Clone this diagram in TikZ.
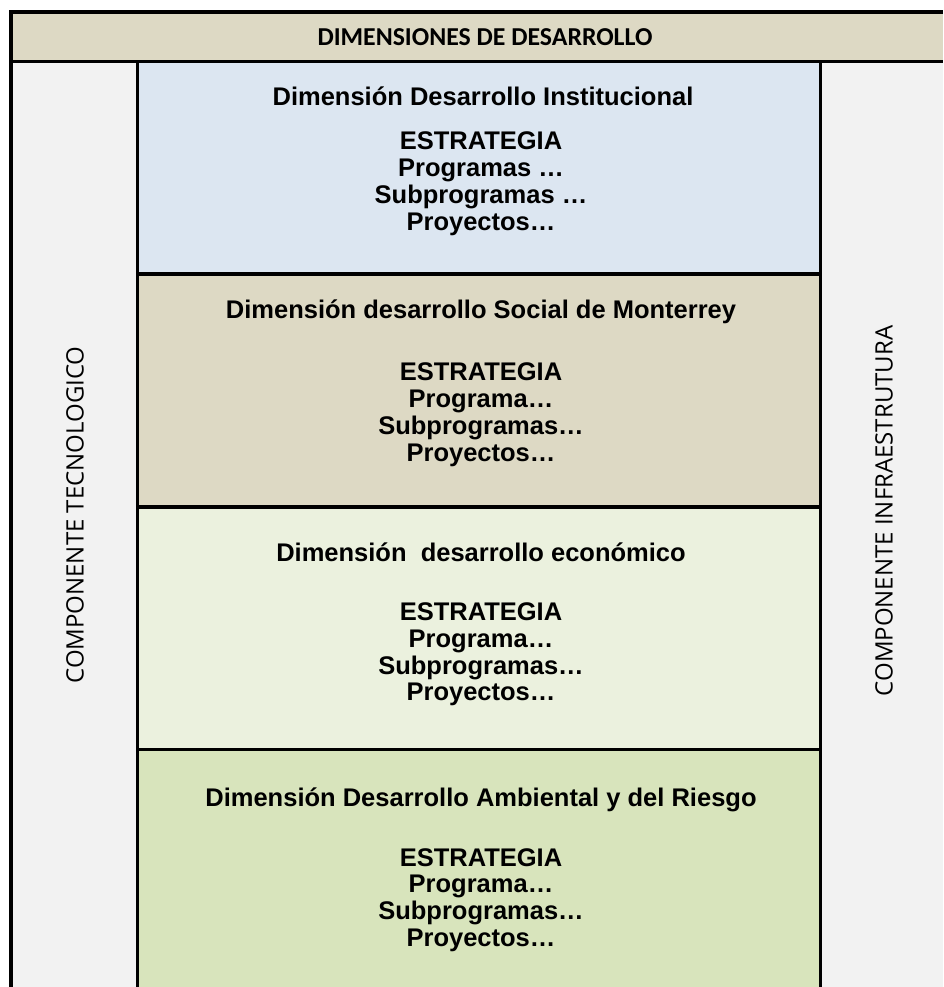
\documentclass[tikz,border=0pt]{standalone}
\usepackage{fontspec}
\setmainfont{Liberation Sans}
\newfontfamily\hdrfont{Carlito}
\newfontfamily\sidefont{Open Sans}
\definecolor{tan}{HTML}{DDD9C4}
\definecolor{sidegray}{HTML}{F2F2F2}
\definecolor{boxblue}{HTML}{DCE6F1}
\definecolor{boxlgreen}{HTML}{EBF1DE}
\definecolor{boxgreen}{HTML}{D8E4BC}
\tikzset{
  rule/.style={line width=3.5pt, black},
  boxtxt/.style={anchor=base, inner sep=0pt, font=\bfseries\fontsize{25.5}{27}\selectfont},
  sidetxt/.style={rotate=90, inner sep=0pt, font=\sidefont\fontsize{24}{28}\selectfont},
  hdrtxt/.style={inner sep=0pt, font=\hdrfont\bfseries\fontsize{25.8}{28}\selectfont}
}
\begin{document}
\begin{tikzpicture}[x=1pt,y=-1pt]
\useasboundingbox (0,0) rectangle (943,987);
\fill[white] (0,0) rectangle (943,987);
% fills
\fill[tan] (11,12) rectangle (943,61.5);
\fill[sidegray] (11,61.5) rectangle (137.5,987);
\fill[sidegray] (820.5,61.5) rectangle (943,987);
\fill[boxblue] (137.5,61.5) rectangle (820.5,274);
\fill[tan] (137.5,274) rectangle (820.5,507);
\fill[boxlgreen] (137.5,507) rectangle (820.5,749.5);
\fill[boxgreen] (137.5,749.5) rectangle (820.5,987);
% rules
\draw[rule] (9.25,12) -- (943,12);
\draw[rule] (11,10.25) -- (11,987);
\draw[rule] (11,61.5) -- (943,61.5);
\draw[rule] (137.5,61.5) -- (137.5,987);
\draw[rule] (820.5,61.5) -- (820.5,987);
\draw[rule] (137.5,274) -- (822,274);
\draw[rule] (137.5,507) -- (822,507);
\draw[rule] (137.5,749.5) -- (822,749.5);
% header
\node[hdrtxt] (hdr) at (485,37) {DIMENSIONES DE DESARROLLO};
% side labels
\node[sidetxt] (left) at (75,515) {COMPONENTE TECNOLOGICO};
\node[sidetxt] (right) at (884,511) {COMPONENTE INFRAESTRUTURA};
% box 1
\node[boxtxt] (t1) at (483,106) {Dimensión Desarrollo Institucional};
\node[boxtxt] (e1) at (481,150) {ESTRATEGIA};
\node[boxtxt] (p1) at (481,177) {Programas …};
\node[boxtxt] (s1) at (481,204) {Subprogramas …};
\node[boxtxt] (r1) at (481,230) {Proyectos…};
% box 2
\node[boxtxt] (t2) at (481,318) {Dimensión desarrollo Social de Monterrey};
\node[boxtxt] (e2) at (481,380) {ESTRATEGIA};
\node[boxtxt] (p2) at (481,407) {Programa…};
\node[boxtxt] (s2) at (481,434) {Subprogramas…};
\node[boxtxt] (r2) at (481,461) {Proyectos…};
% box 3
\node[boxtxt] (t3) at (481,561) {Dimensión\ \ desarrollo económico};
\node[boxtxt] (e3) at (481,620) {ESTRATEGIA};
\node[boxtxt] (p3) at (481,647) {Programa…};
\node[boxtxt] (s3) at (481,674) {Subprogramas…};
\node[boxtxt] (r3) at (481,700) {Proyectos…};
% box 4
\node[boxtxt] (t4) at (481,806) {Dimensión Desarrollo Ambiental y del Riesgo};
\node[boxtxt] (e4) at (481,866) {ESTRATEGIA};
\node[boxtxt] (p4) at (481,892) {Programa…};
\node[boxtxt] (s4) at (481,919) {Subprogramas…};
\node[boxtxt] (r4) at (481,946) {Proyectos…};
\end{tikzpicture}
\end{document}
